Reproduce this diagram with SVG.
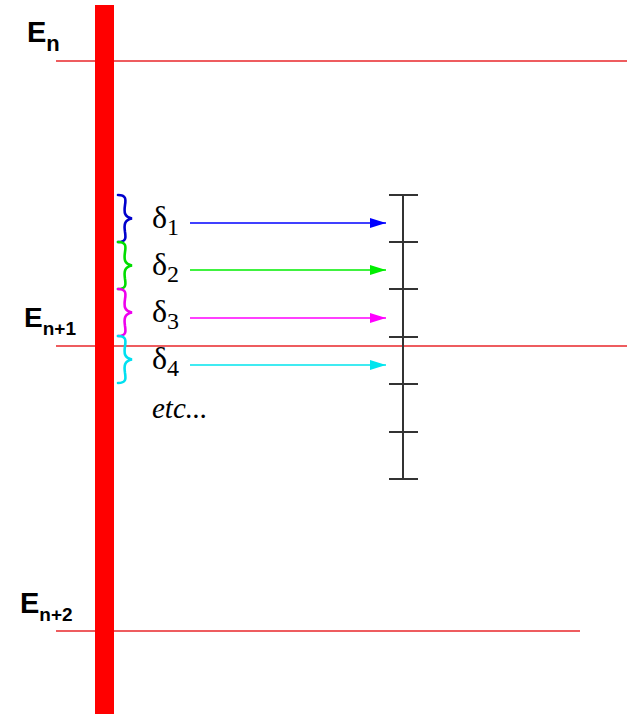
<svg xmlns="http://www.w3.org/2000/svg" width="627" height="714" viewBox="0 0 627 714">
<defs>
<style>
.lvl{stroke:#e8262a;stroke-width:1.3;fill:none}
.lab{font-family:"Liberation Sans",Arial,sans-serif;font-weight:bold;fill:#000}
.dl{font-family:"Liberation Serif","Times New Roman",serif;fill:#000}
.br{fill:none;stroke-width:2.6;stroke-linecap:round}
.ar{stroke-width:1.3}
.sc{stroke:#333;stroke-width:2;fill:none}
</style>
<marker id="mb" markerWidth="16" markerHeight="10" refX="16" refY="5" orient="auto" markerUnits="userSpaceOnUse"><path d="M0,0 L16,5 L0,10 Z" fill="#0000ff"/></marker>
<marker id="mg" markerWidth="16" markerHeight="10" refX="16" refY="5" orient="auto" markerUnits="userSpaceOnUse"><path d="M0,0 L16,5 L0,10 Z" fill="#00ee00"/></marker>
<marker id="mm" markerWidth="16" markerHeight="10" refX="16" refY="5" orient="auto" markerUnits="userSpaceOnUse"><path d="M0,0 L16,5 L0,10 Z" fill="#ff00ff"/></marker>
<marker id="mc" markerWidth="16" markerHeight="10" refX="16" refY="5" orient="auto" markerUnits="userSpaceOnUse"><path d="M0,0 L16,5 L0,10 Z" fill="#00e5ee"/></marker>
</defs>
<rect width="627" height="714" fill="#fff"/>
<g id="levels">
<line class="lvl" x1="56" y1="61" x2="627" y2="61"/>
<line class="lvl" x1="56" y1="346" x2="627" y2="346"/>
<line class="lvl" x1="56" y1="631" x2="580" y2="631"/>
</g>
<g id="bar"><rect x="95" y="5" width="19" height="709" fill="#ff0000"/></g>
<g id="label-En"><text class="lab" x="27" y="42" font-size="29">E<tspan font-size="22" dy="9">n</tspan></text></g>
<g id="label-En1"><text class="lab" x="24" y="327" font-size="28">E<tspan font-size="19" dy="8">n+1</tspan></text></g>
<g id="label-En2"><text class="lab" x="20" y="613" font-size="29">E<tspan font-size="19" dy="8">n+2</tspan></text></g>
<g id="braces">
<path class="br" stroke="#0000cc" d="M118,195 C126,195 126,199 125,205 C124,212 124,217 132,218.5 C124,220 124,225 125,232 C126,238 126,242 118,242"/>
<path class="br" stroke="#00dd00" d="M118,242 C126,242 126,246 125,252 C124,259 124,264 132,265.5 C124,267 124,272 125,279 C126,285 126,289 118,289"/>
<path class="br" stroke="#ee00ee" d="M118,289 C126,289 126,293 125,299 C124,306 124,311 132,312.5 C124,314 124,319 125,326 C126,332 126,336 118,336"/>
<path class="br" stroke="#00e0f0" d="M118,336 C126,336 126,340 125,346 C124,353 124,358 132,359.5 C124,361 124,366 125,373 C126,379 126,383 118,383"/>
</g>
<g id="deltas">
<text class="dl" x="152" y="228" font-size="32">δ<tspan font-size="24" dy="7">1</tspan></text>
<text class="dl" x="152" y="275" font-size="32">δ<tspan font-size="24" dy="7">2</tspan></text>
<text class="dl" x="152" y="322" font-size="32">δ<tspan font-size="24" dy="7">3</tspan></text>
<text class="dl" x="152" y="369" font-size="32">δ<tspan font-size="24" dy="7">4</tspan></text>
<text class="dl" x="152" y="418" font-size="29" font-style="italic">etc...</text>
</g>
<g id="connectors">
<line class="ar" x1="190" y1="223" x2="386" y2="223" stroke="#0000ff" marker-end="url(#mb)"/>
<line class="ar" x1="190" y1="270" x2="386" y2="270" stroke="#00ee00" marker-end="url(#mg)"/>
<line class="ar" x1="190" y1="318" x2="386" y2="318" stroke="#ff00ff" marker-end="url(#mm)"/>
<line class="ar" x1="190" y1="365" x2="386" y2="365" stroke="#00e5ee" marker-end="url(#mc)"/>
</g>
<g id="scale">
<line class="sc" x1="403" y1="195" x2="403" y2="479"/>
<line class="sc" x1="389" y1="195" x2="418" y2="195"/>
<line class="sc" x1="389" y1="242" x2="418" y2="242"/>
<line class="sc" x1="389" y1="289" x2="418" y2="289"/>
<line class="sc" x1="389" y1="337" x2="418" y2="337"/>
<line class="sc" x1="389" y1="384" x2="418" y2="384"/>
<line class="sc" x1="389" y1="432" x2="418" y2="432"/>
<line class="sc" x1="389" y1="479" x2="418" y2="479"/>
</g>
</svg>
